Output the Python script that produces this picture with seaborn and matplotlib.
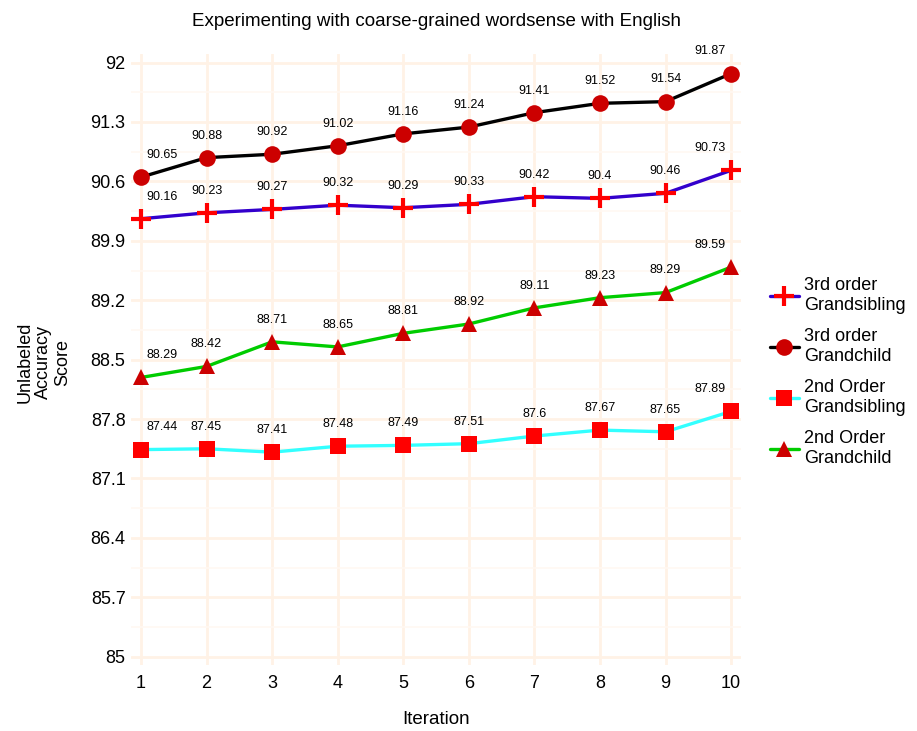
import matplotlib
matplotlib.use("Agg")
import matplotlib.pyplot as plt
import seaborn as sns
import pandas as pd
import numpy as np
from matplotlib.lines import Line2D

iterations = [1, 2, 3, 4, 5, 6, 7, 8, 9, 10]
series_names = ["3rd order\nGrandsibling", "3rd order\nGrandchild",
                "2nd Order\nGrandsibling", "2nd Order\nGrandchild"]
gs3 = [90.16, 90.23, 90.27, 90.32, 90.29, 90.33, 90.42, 90.4, 90.46, 90.73]
gc3 = [90.65, 90.88, 90.92, 91.02, 91.16, 91.24, 91.41, 91.52, 91.54, 91.87]
gs2 = [87.44, 87.45, 87.41, 87.48, 87.49, 87.51, 87.6, 87.67, 87.65, 87.89]
gc2 = [88.29, 88.42, 88.71, 88.65, 88.81, 88.92, 89.11, 89.23, 89.29, 89.59]
label_texts = {
    0: ["90.16", "90.23", "90.27", "90.32", "90.29", "90.33", "90.42", "90.4", "90.46", "90.73"],
    1: ["90.65", "90.88", "90.92", "91.02", "91.16", "91.24", "91.41", "91.52", "91.54", "91.87"],
    2: ["87.44", "87.45", "87.41", "87.48", "87.49", "87.51", "87.6", "87.67", "87.65", "87.89"],
    3: ["88.29", "88.42", "88.71", "88.65", "88.81", "88.92", "89.11", "89.23", "89.29", "89.59"],
}
y_ticks = [85, 85.7, 86.4, 87.1, 87.8, 88.5, 89.2, 89.9, 90.6, 91.3, 92]
y_tick_labels = ["85", "85.7", "86.4", "87.1", "87.8", "88.5", "89.2", "89.9", "90.6", "91.3", "92"]

line_colors = ["#3300CC", "#000000", "#33FFFF", "#00CC00"]
marker_colors = ["#FF0000", "#CC0000", "#FF0000", "#CC0000"]
markers = ["+", "o", "s", "^"]
msizes = [14, 12, 11, 12]

values = [gs3, gc3, gs2, gc2]
df = pd.DataFrame({
    "Iteration": iterations * 4,
    "Score": gs3 + gc3 + gs2 + gc2,
    "Series": sum([[n] * 10 for n in series_names], []),
})

sns.set_theme(style="white")
plt.rcParams['font.family'] = ['Liberation Sans', 'DejaVu Sans']
plt.rcParams['text.color'] = 'black'

fig = plt.figure(figsize=(9.17, 7.31), dpi=100)
ax = fig.add_axes([0.143, 0.090, 0.665, 0.836])

ax.set_xticks(iterations)
ax.set_yticks(y_ticks)
ax.set_yticklabels(y_tick_labels)
ax.set_yticks(np.array(y_ticks[:-1]) + 0.35, minor=True)
ax.grid(True, which="major", color="#FFF2E6", linewidth=2.0, zorder=0)
ax.grid(True, which="minor", axis="y", color="#FFF8F2", linewidth=1.2, zorder=0)
ax.set_axisbelow(True)

for i, name in enumerate(series_names):
    sub = df[df["Series"] == name]
    sns.lineplot(data=sub, x="Iteration", y="Score", color=line_colors[i],
                 linewidth=2.4, ax=ax, legend=False, zorder=2)
    if markers[i] == "+":
        ax.plot(sub["Iteration"], sub["Score"], linestyle="none", marker="+",
                markersize=msizes[i], markeredgewidth=3, color=marker_colors[i], zorder=3)
    else:
        ax.plot(sub["Iteration"], sub["Score"], linestyle="none", marker=markers[i],
                markersize=msizes[i], markeredgewidth=0, color=marker_colors[i], zorder=3)
    for j, (x, y) in enumerate(zip(iterations, values[i])):
        dx = 0.32 if j == 0 else (-0.32 if j == 9 else 0)
        ax.text(x + dx, y + 0.19, label_texts[i][j], ha="center", va="bottom",
                fontsize=9, color="black", zorder=4)

ax.set_xlim(0.85, 10.15)
ax.set_ylim(84.9, 92.1)
for s in ax.spines.values():
    s.set_visible(False)
ax.tick_params(axis="both", which="both", length=0, labelsize=13, colors="black")
ax.tick_params(axis="y", pad=4)
ax.tick_params(axis="x", pad=7)
ax.set_xlabel("Iteration", fontsize=13.5, color="black", labelpad=14)
ax.set_ylabel("Unlabeled\nAccuracy\nScore", fontsize=13, color="black",
              rotation=90, ha="center", va="center", linespacing=1.15)
ax.yaxis.set_label_coords(-0.143, 0.496)
ax.set_title("Experimenting with coarse-grained wordsense with English",
             fontsize=13.5, color="black", pad=20)

handles = []
for i in range(4):
    if markers[i] == "+":
        h = Line2D([0], [0], color=line_colors[i], linewidth=2.4, marker="+",
                   markersize=msizes[i], markeredgewidth=3, markeredgecolor=marker_colors[i])
    else:
        h = Line2D([0], [0], color=line_colors[i], linewidth=2.4, marker=markers[i],
                   markersize=msizes[i], markeredgewidth=0, markerfacecolor=marker_colors[i])
    handles.append(h)
leg = fig.legend(handles, series_names, loc="center left", bbox_to_anchor=(0.822, 0.491),
                 frameon=False, fontsize=13, handlelength=1.6, labelspacing=0.8,
                 handletextpad=0.3)
for t in leg.get_texts():
    t.set_linespacing(1.2)
    t.set_color("black")

fig.savefig("out.png", dpi=100)
